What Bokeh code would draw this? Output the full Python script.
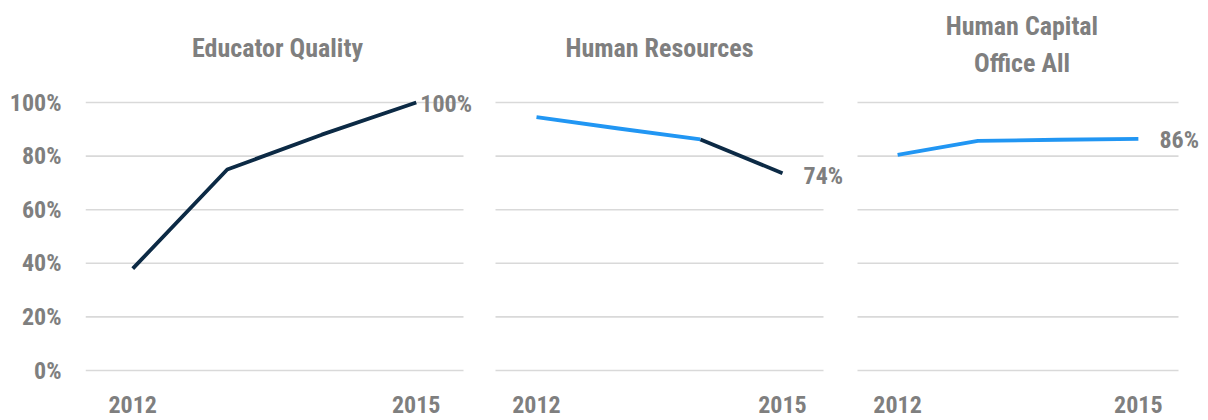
from bokeh.plotting import figure
from bokeh.layouts import row
from bokeh.models import Range1d, FixedTicker, PrintfTickFormatter, Label
from bokeh.embed import file_html
from bokeh.resources import INLINE

# ---- data ----
years = [2012, 2013, 2014, 2015]
x_tick_years = [2012, 2015]
y_ticks = [0, 20, 40, 60, 80, 100]
titles = ["Educator Quality", "Human Resources", "Human Capital\nOffice All"]
educator_quality = [38, 75, 88, 100]
human_resources = [94.5, 90.3, 86.2, 73.6]
human_capital_office_all = [80.5, 85.7, 86.1, 86.4]

# ---- style ----
FONT = "'Roboto Condensed', 'Open Sans Condensed', 'DejaVu Sans Condensed', Roboto, sans-serif"
GREY = "#7f7f7f"
DARK = "#0c2a45"
BLUE = "#2196f3"
GRID = "#d9d9d9"

FRAME_H = 372
PX_Y = 2.68                       # pixels per percentage point
Y0 = -2 / PX_Y                    # 0% sits 2px above the frame bottom
Y1 = Y0 + FRAME_H / PX_Y
GRID_X = (2011.5, 2015.5)         # extent of the horizontal gridlines


def make_panel(title, values, seg_colors, frame_width, border_left, pad_left,
               px_per_year, show_y, label_dx, label_dy, title_dx):
    x_start = GRID_X[0] - pad_left / px_per_year
    x_end = x_start + frame_width / px_per_year
    p = figure(frame_width=frame_width, frame_height=FRAME_H,
               x_range=Range1d(x_start, x_end), y_range=Range1d(Y0, Y1),
               output_backend="svg", toolbar_location=None,
               min_border_left=border_left, min_border_right=0,
               min_border_top=0, min_border_bottom=48,
               y_axis_location="left" if show_y else None)
    p.outline_line_color = None
    p.background_fill_color = "white"
    p.border_fill_color = "white"
    p.xgrid.visible = False
    p.ygrid.visible = False

    # horizontal gridlines limited to the panel's plotting width
    n = len(y_ticks)
    p.segment(x0=[GRID_X[0]] * n, x1=[GRID_X[1]] * n, y0=y_ticks, y1=y_ticks,
              line_color=GRID, line_width=1.6)

    xa = p.xaxis[0]
    xa.ticker = FixedTicker(ticks=x_tick_years)
    xa.axis_line_color = None
    xa.major_tick_line_color = None
    xa.minor_tick_line_color = None
    xa.major_tick_out = 0
    xa.major_label_standoff = 23
    xa.major_label_text_font = FONT
    xa.major_label_text_font_style = "bold"
    xa.major_label_text_font_size = "24px"
    xa.major_label_text_color = GREY

    if show_y:
        ya = p.yaxis[0]
        ya.ticker = FixedTicker(ticks=y_ticks)
        ya.formatter = PrintfTickFormatter(format="%d%%")
        ya.axis_line_color = None
        ya.major_tick_line_color = None
        ya.minor_tick_line_color = None
        ya.major_tick_out = 0
        ya.major_label_standoff = 24
        ya.major_label_text_font = FONT
        ya.major_label_text_font_style = "bold"
        ya.major_label_text_font_size = "24px"
        ya.major_label_text_color = GREY

    # line drawn in runs of same colour
    start = 0
    for i in range(1, len(seg_colors) + 1):
        if i == len(seg_colors) or seg_colors[i] != seg_colors[start]:
            p.line(years[start:i + 1], values[start:i + 1],
                   line_color=seg_colors[start], line_width=3.8,
                   line_join="round")
            start = i

    p.add_layout(Label(x=years[-1], y=values[-1], text=f"{round(values[-1])}%",
                       x_offset=label_dx, y_offset=label_dy,
                       text_align="left", text_baseline="middle",
                       text_font=FONT, text_font_style="bold",
                       text_font_size="24px", text_color=GREY))

    lines = title.split("\n")
    if len(lines) == 1:
        ys = [Y1 - 47 / PX_Y]
    else:
        ys = [Y1 - 25 / PX_Y, Y1 - 62 / PX_Y]
    for t, yy in zip(lines, ys):
        p.add_layout(Label(x=sum(GRID_X) / 2, y=yy, text=t, x_offset=title_dx,
                           text_align="center", text_baseline="middle",
                           text_font=FONT, text_font_style="bold",
                           text_font_size="26px", text_color=GREY))
    return p


p1 = make_panel(titles[0], educator_quality, [DARK, DARK, DARK],
                394, 85, 0, 94.5, True, 4, -1, 3)
p2 = make_panel(titles[1], human_resources, [BLUE, BLUE, DARK],
                367, 0, 16, 82.0, False, 21, -3, 0)
p3 = make_panel(titles[2], human_capital_office_all, [BLUE, BLUE, BLUE],
                362, 0, 11, 80.25, False, 21, -1, 4)

layout = row(p1, p2, p3)
open("out.html", "w").write(file_html(layout, INLINE))
